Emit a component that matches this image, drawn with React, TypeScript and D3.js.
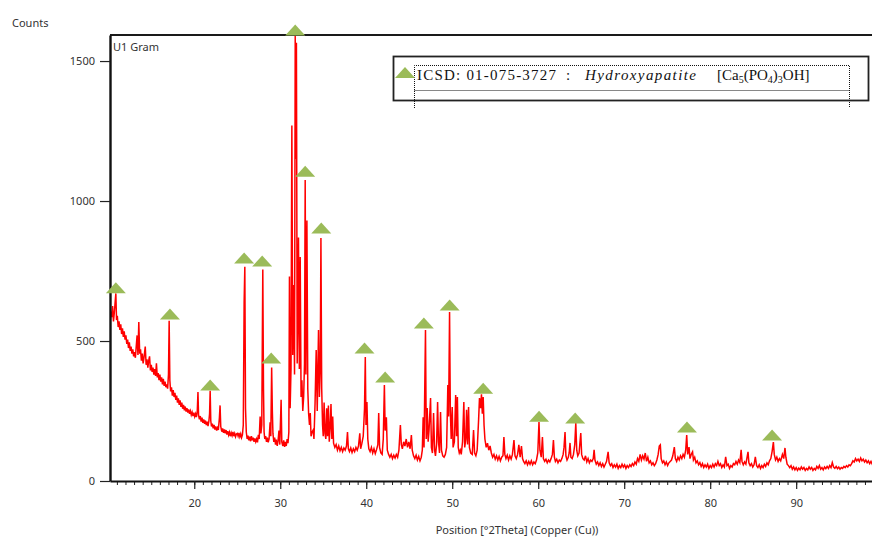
import React, { useRef, useEffect } from 'react';
import * as d3 from 'd3';

// scan, [°2Theta, counts]
const scanLow: [number, number][] = [
  [10.2, 560], [10.3, 605], [10.4, 585], [10.5, 625], [10.6, 570], [10.7, 600], [10.8, 640], [10.88, 670], [10.96, 575],
  [11.05, 590], [11.15, 550], [11.25, 570], [11.35, 540], [11.45, 560], [11.55, 525], [11.65, 545], [11.75, 515], [11.85, 535],
  [11.95, 505], [12.05, 520], [12.15, 490], [12.25, 505], [12.35, 475], [12.45, 495], [12.55, 465], [12.65, 480], [12.75, 455],
  [12.85, 470], [12.95, 445], [13.05, 460], [13.15, 440], [13.25, 480], [13.35, 520], [13.45, 450], [13.55, 568], [13.65, 455],
  [13.75, 470], [13.85, 430], [13.95, 455], [14.05, 420], [14.15, 440], [14.3, 480], [14.4, 415], [14.5, 435], [14.6, 405],
  [14.7, 430], [14.8, 445], [14.9, 395], [15.0, 415], [15.1, 390], [15.2, 405], [15.3, 380], [15.4, 400], [15.5, 375],
  [15.6, 420], [15.7, 370], [15.8, 385], [15.9, 360], [16.0, 380], [16.1, 355], [16.2, 370], [16.3, 345], [16.4, 365],
  [16.5, 340], [16.6, 355], [16.7, 335], [16.8, 345], [16.9, 330], [17.0, 380], [17.08, 572], [17.16, 360], [17.25, 320],
  [17.35, 335], [17.45, 305], [17.55, 325], [17.65, 300], [17.75, 315], [17.85, 290], [17.95, 305], [18.05, 280], [18.15, 295],
  [18.25, 272], [18.35, 288], [18.45, 265], [18.55, 280], [18.65, 258], [18.75, 272], [18.85, 252], [18.95, 266], [19.05, 248],
  [19.15, 260], [19.25, 244], [19.35, 256], [19.45, 240], [19.55, 250], [19.65, 236], [19.75, 246], [19.85, 232], [19.95, 244],
  [20.05, 230], [20.15, 240], [20.25, 228], [20.35, 250], [20.43, 318], [20.5, 235], [20.6, 220], [20.7, 232], [20.8, 212],
  [20.9, 226], [21.0, 208], [21.1, 220], [21.2, 204], [21.3, 216], [21.4, 200], [21.5, 212], [21.6, 196], [21.7, 214],
  [21.78, 240], [21.85, 322], [21.92, 215], [22.0, 195], [22.1, 205], [22.2, 188], [22.3, 200], [22.4, 184], [22.5, 195],
  [22.6, 180], [22.7, 190], [22.8, 182], [22.92, 225], [23.0, 270], [23.08, 195], [23.2, 176], [23.3, 188], [23.4, 172],
  [23.5, 184], [23.6, 170], [23.7, 182], [23.8, 166], [23.9, 178], [24.0, 164], [24.1, 174], [24.2, 160], [24.3, 172],
  [24.4, 162], [24.5, 175], [24.6, 160], [24.7, 170], [24.8, 158], [24.9, 168],
];

const scanMain: [number, number][] = [
  [25.0, 170], [25.1, 160], [25.2, 172], [25.3, 158], [25.4, 168], [25.5, 155], [25.6, 165], [25.7, 200], [25.8, 640],
  [25.88, 765], [25.96, 260], [26.05, 175], [26.15, 150], [26.25, 162], [26.35, 145], [26.45, 158], [26.55, 142], [26.65, 160],
  [26.75, 145], [26.85, 155], [26.95, 140], [27.05, 152], [27.15, 140], [27.25, 150], [27.35, 138], [27.45, 165], [27.55, 150],
  [27.66, 230], [27.75, 170], [27.85, 200], [27.97, 755], [28.05, 330], [28.12, 175], [28.2, 150], [28.3, 160], [28.4, 140],
  [28.5, 155], [28.6, 138], [28.7, 150], [28.82, 210], [28.9, 160], [29.0, 405], [29.08, 250], [29.15, 170], [29.25, 140],
  [29.35, 155], [29.45, 130], [29.55, 148], [29.65, 125], [29.75, 145], [29.85, 180], [29.95, 130], [30.1, 290], [30.18, 140],
  [30.3, 125], [30.4, 145], [30.5, 122], [30.6, 140], [30.7, 125], [30.8, 150], [30.9, 135], [31.0, 175], [31.07, 730],
  [31.15, 260], [31.25, 400], [31.35, 1270], [31.45, 450], [31.58, 700], [31.66, 380], [31.74, 1590], [31.81, 1150],
  [31.88, 1565], [31.97, 420], [32.05, 600], [32.12, 870], [32.22, 400], [32.32, 800], [32.42, 300], [32.52, 360], [32.62, 250],
  [32.72, 300], [32.82, 420], [32.9, 1075], [32.98, 380], [33.1, 930], [33.2, 330], [33.3, 240], [33.4, 200], [33.49, 243],
  [33.58, 160], [33.7, 175], [33.83, 182], [33.92, 150], [34.05, 280], [34.18, 468], [34.3, 250], [34.45, 539], [34.55, 300],
  [34.65, 400], [34.73, 868], [34.82, 330], [34.92, 200], [35.0, 160], [35.1, 280], [35.2, 170], [35.3, 150], [35.4, 260],
  [35.5, 160], [35.6, 270], [35.7, 140], [35.8, 190], [35.9, 275], [36.0, 150], [36.1, 230], [36.2, 135], [36.35, 120],
  [36.5, 130], [36.65, 110], [36.8, 125], [36.95, 108], [37.1, 120], [37.25, 105], [37.4, 118], [37.55, 110], [37.7, 125],
  [37.82, 175], [37.92, 115], [38.05, 105], [38.2, 118], [38.35, 102], [38.5, 115], [38.65, 105], [38.8, 120], [38.95, 110],
  [39.1, 125], [39.25, 170], [39.35, 115], [39.5, 135], [39.65, 160], [39.8, 260], [39.89, 443], [39.97, 200], [40.08, 282],
  [40.18, 150],
];

const scanMid: [number, number][] = [
  [40.3, 115], [40.45, 105], [40.6, 120], [40.75, 100], [40.9, 115], [41.05, 98], [41.2, 112], [41.35, 130], [41.45, 243],
  [41.55, 120], [41.7, 100], [41.85, 95], [41.98, 150], [42.11, 343], [42.2, 180], [42.34, 228], [42.45, 110], [42.6, 95],
  [42.75, 85], [42.9, 95], [43.05, 80], [43.2, 92], [43.35, 82], [43.5, 95], [43.65, 85], [43.8, 110], [43.97, 200],
  [44.08, 130], [44.2, 115], [44.35, 140], [44.5, 125], [44.65, 150], [44.8, 120], [44.95, 140], [45.1, 115], [45.25, 164],
  [45.35, 110], [45.5, 90], [45.65, 80], [45.8, 92], [45.95, 75], [46.1, 88], [46.25, 72], [46.4, 85], [46.52, 110],
  [46.62, 228], [46.72, 120], [46.89, 539], [46.98, 150], [47.09, 261], [47.2, 140], [47.3, 180], [47.48, 296], [47.58, 120],
  [47.7, 100], [47.83, 243], [47.95, 110], [48.05, 90], [48.18, 130], [48.3, 282], [48.4, 140], [48.52, 100], [48.64, 246],
  [48.75, 110], [48.9, 90], [49.05, 85], [49.2, 95], [49.35, 120], [49.49, 343], [49.58, 230], [49.69, 604], [49.78, 250],
  [49.88, 150], [50.0, 264], [50.1, 120], [50.25, 140], [50.4, 307], [50.5, 160], [50.6, 300], [50.7, 120], [50.82, 100],
  [50.94, 110], [51.05, 95], [51.2, 140], [51.35, 282], [51.45, 120], [51.58, 150], [51.67, 254], [51.78, 130], [51.9, 264],
  [52.0, 120], [52.15, 100], [52.33, 95], [52.48, 182], [52.6, 100], [52.75, 90], [52.9, 110], [53.07, 220], [53.17, 296],
  [53.3, 260], [53.4, 310], [53.5, 240], [53.6, 300], [53.7, 200], [53.8, 150], [53.95, 120], [54.1, 135], [54.25, 110],
  [54.4, 125], [54.55, 100], [54.7, 85], [54.85, 95], [55.0, 78], [55.15, 90], [55.3, 75], [55.45, 88], [55.6, 72],
  [55.75, 85], [55.9, 90], [56.01, 157], [56.12, 95], [56.25, 80], [56.4, 92], [56.55, 75], [56.7, 90], [56.85, 78],
  [57.0, 95], [57.18, 146], [57.3, 90], [57.45, 80], [57.6, 95], [57.75, 129], [57.9, 85], [58.05, 125], [58.18, 80],
  [58.3, 70], [58.45, 62], [58.6, 72], [58.75, 58], [58.9, 70], [59.05, 60], [59.2, 72], [59.35, 58], [59.5, 68],
  [59.65, 62], [59.8, 75], [59.95, 100], [60.09, 211], [60.2, 110], [60.35, 85], [60.49, 157],
];

const scanHigh: [number, number][] = [
  [60.6, 80], [60.75, 70], [60.9, 78], [61.05, 65], [61.2, 75], [61.35, 68], [61.5, 80], [61.65, 95], [61.77, 146],
  [61.88, 85], [62.0, 70], [62.15, 78], [62.3, 65], [62.45, 75], [62.6, 70], [62.75, 80], [62.9, 95], [63.0, 120],
  [63.12, 175], [63.22, 90], [63.35, 75], [63.5, 85], [63.6, 100], [63.7, 136], [63.8, 85], [63.95, 80], [64.1, 95],
  [64.25, 130], [64.37, 207], [64.48, 110], [64.6, 90], [64.75, 100], [64.95, 171], [65.05, 95], [65.2, 80], [65.35, 75],
  [65.5, 90], [65.65, 68], [65.8, 80], [65.95, 65], [66.1, 75], [66.25, 70], [66.4, 80], [66.5, 111], [66.6, 75],
  [66.75, 60], [66.9, 68], [67.05, 55], [67.2, 65], [67.35, 52], [67.5, 62], [67.65, 50], [67.8, 60], [67.95, 70],
  [68.13, 104], [68.25, 65], [68.4, 55], [68.55, 62], [68.7, 48], [68.85, 58], [69.0, 50], [69.15, 60], [69.3, 45],
  [69.45, 55], [69.6, 48], [69.75, 60], [69.9, 50], [70.05, 58], [70.2, 45], [70.35, 55], [70.5, 48], [70.65, 58],
  [70.8, 52], [70.95, 62], [71.1, 55], [71.25, 68], [71.4, 60], [71.55, 80], [71.7, 70], [71.85, 95], [72.0, 75],
  [72.15, 90], [72.3, 78], [72.45, 100], [72.6, 70], [72.75, 85], [72.9, 65], [73.05, 72], [73.2, 58], [73.35, 65],
  [73.5, 55], [73.65, 62], [73.8, 75], [73.95, 95], [74.08, 125], [74.2, 129], [74.3, 80], [74.45, 65], [74.6, 72],
  [74.75, 58], [74.9, 68], [75.05, 55], [75.2, 65], [75.35, 70], [75.5, 75], [75.65, 90], [75.83, 121], [75.95, 80],
  [76.1, 70], [76.25, 85], [76.4, 75], [76.55, 90], [76.7, 80], [76.85, 95], [77.0, 85], [77.15, 110], [77.27, 164],
  [77.38, 95], [77.54, 121], [77.65, 80], [77.8, 95], [77.95, 104], [78.05, 75], [78.2, 85], [78.35, 65], [78.5, 72],
  [78.65, 58], [78.8, 66], [78.95, 52], [79.1, 62], [79.25, 48], [79.4, 58], [79.55, 50], [79.7, 60], [79.85, 45],
  [80.0, 55], [80.15, 48], [80.3, 60], [80.45, 50], [80.6, 62], [80.75, 55], [80.9, 70], [81.05, 55], [81.2, 62],
  [81.35, 48], [81.5, 58], [81.65, 50], [81.8, 86], [81.95, 55], [82.1, 60], [82.25, 45], [82.4, 55], [82.55, 50],
  [82.7, 62], [82.85, 58], [83.0, 70], [83.15, 60], [83.3, 75], [83.45, 65], [83.6, 111], [83.7, 70], [83.85, 58],
  [84.0, 68], [84.15, 60], [84.4, 104], [84.5, 65], [84.65, 55], [84.8, 62], [84.95, 50], [85.1, 58], [85.25, 86],
  [85.4, 55], [85.55, 48], [85.7, 58], [85.85, 45], [86.0, 55], [86.15, 48], [86.3, 60], [86.45, 52], [86.6, 65],
  [86.75, 58], [86.9, 72], [87.05, 80], [87.2, 105], [87.35, 139], [87.45, 95], [87.6, 75], [87.75, 85], [87.9, 70],
  [88.05, 80], [88.2, 72], [88.4, 95], [88.55, 80], [88.7, 118], [88.8, 85], [88.95, 60], [89.1, 55], [89.25, 48],
  [89.4, 55], [89.55, 42], [89.7, 50], [89.85, 40], [90.0, 48], [90.15, 38], [90.3, 46], [90.45, 40], [90.6, 50],
  [90.75, 42], [90.9, 48], [91.05, 38], [91.2, 45], [91.35, 40], [91.5, 50], [91.65, 42], [91.8, 48], [91.95, 38],
  [92.1, 45], [92.25, 40], [92.4, 52], [92.55, 45], [92.7, 55], [92.85, 42], [93.0, 48], [93.15, 40], [93.3, 50],
  [93.45, 44], [93.6, 52], [93.75, 45], [93.9, 55], [94.05, 48], [94.2, 66], [94.35, 50], [94.5, 45], [94.65, 52],
  [94.8, 44], [94.95, 50], [95.1, 42], [95.25, 48], [95.4, 45], [95.55, 52], [95.7, 48], [95.85, 55], [96.0, 50],
  [96.15, 58], [96.3, 55], [96.45, 62], [96.6, 72], [96.75, 68], [96.9, 80], [97.05, 72], [97.2, 78], [97.35, 70],
  [97.5, 82], [97.65, 72], [97.8, 78], [97.95, 68], [98.1, 75], [98.25, 65], [98.4, 72], [98.55, 62], [98.7, 70],
  [98.85, 60], [99.0, 65], [99.4, 68],
];

// reference pattern (ICSD 01-075-3727) markers
const refTheta = [10.88, 17.17, 21.85, 25.8, 27.9, 28.95, 31.74, 32.9, 34.77, 39.8, 42.2, 46.7, 49.7, 53.6, 60.1, 64.3, 77.3, 87.2];
const refCounts = [671, 577, 323, 777, 766, 420, 1591, 1087, 884, 455, 352, 545, 609, 312, 212, 205, 173, 145];

const xTicks = [20, 30, 40, 50, 60, 70, 80, 90];
const yTicks = [0, 500, 1000, 1500];

const App = () => {
  const chart = useRef<SVGSVGElement>(null);

  useEffect(() => {
    const width = 872;
    const height = 546;
    const left = 110;
    const top = 35;
    const bottom = 481;
    const right = 877;

    const svg = d3.select(chart.current);
    svg.selectAll('*').remove();
    svg.attr('width', width).attr('height', height);

    const x = d3.scaleLinear().domain([10.2, 99.4]).range([left, right]);
    const y = d3.scaleLinear().domain([0, 1593]).range([bottom, top]);

    const axisFont = "'Noto Sans', 'DejaVu Sans', sans-serif";

    svg.append('clipPath').attr('id', 'plot-clip')
      .append('rect')
      .attr('x', left).attr('y', top - 6)
      .attr('width', right - left).attr('height', bottom - top + 6);

    // scan
    const scan = [...scanLow, ...scanMain, ...scanMid, ...scanHigh];
    const line = d3.line<[number, number]>()
      .x(d => x(d[0]))
      .y(d => y(d[1]));

    svg.append('path')
      .datum(scan)
      .attr('clip-path', 'url(#plot-clip)')
      .attr('d', line)
      .attr('fill', 'none')
      .attr('stroke', '#ff0000')
      .attr('stroke-width', 1.5);

    // frame top
    svg.append('line')
      .attr('x1', left).attr('x2', right)
      .attr('y1', top).attr('y2', top)
      .attr('stroke', '#1a1a1a').attr('stroke-width', 2);

    // x axis, minor ticks every degree
    svg.append('g')
      .attr('transform', `translate(0,${bottom})`)
      .call(d3.axisBottom(x).tickValues(d3.range(11, 100)).tickSize(4).tickSizeOuter(0).tickFormat(() => ''))
      .call(g => g.select('.domain').remove())
      .selectAll('line').attr('stroke', '#222');

    const xAxis = svg.append('g')
      .attr('transform', `translate(0,${bottom})`)
      .call(d3.axisBottom(x).tickValues(xTicks).tickSize(8).tickPadding(10).tickSizeOuter(0));
    xAxis.select('.domain').attr('stroke', '#111').attr('stroke-width', 2.2);
    xAxis.selectAll('.tick line').attr('stroke', '#222').attr('stroke-width', 1.2);
    xAxis.selectAll('text')
      .style('font-family', axisFont).style('font-size', '11px').style('fill', '#333');

    const yAxis = svg.append('g')
      .attr('transform', `translate(${left},0)`)
      .call(d3.axisLeft(y).tickValues(yTicks).tickFormat(d3.format('d')).tickSize(10).tickPadding(5).tickSizeOuter(0));
    yAxis.select('.domain').attr('stroke', '#111').attr('stroke-width', 2.4);
    yAxis.selectAll('.tick line').attr('stroke', '#222').attr('stroke-width', 1.2);
    yAxis.selectAll('text')
      .style('font-family', axisFont).style('font-size', '11px').style('fill', '#333');

    // reference markers
    svg.append('g')
      .selectAll('path')
      .data(refTheta)
      .enter()
      .append('path')
      .attr('d', (d, i) => {
        const cx = x(d);
        const b = y(refCounts[i]);
        return `M${cx - 10},${b} L${cx},${b - 11} L${cx + 10},${b} Z`;
      })
      .attr('fill', '#9bbb59');

    // labels
    svg.append('text')
      .attr('x', 12).attr('y', 27)
      .style('font-family', axisFont).style('font-size', '11px').style('fill', '#333')
      .text('Counts');

    svg.append('text')
      .attr('x', 113).attr('y', 51)
      .style('font-family', axisFont).style('font-size', '11px').style('fill', '#333')
      .text('U1 Gram');

    svg.append('text')
      .attr('x', 517).attr('y', 534)
      .attr('text-anchor', 'middle')
      .style('font-family', axisFont).style('font-size', '11px').style('fill', '#333')
      .text('Position [°2Theta] (Copper (Cu))');

    // legend
    const legend = svg.append('g');
    legend.append('rect')
      .attr('x', 393.5).attr('y', 56.5)
      .attr('width', 475).attr('height', 44)
      .attr('fill', '#fff')
      .attr('stroke', '#222').attr('stroke-width', 1.8);
    legend.append('path')
      .attr('d', 'M414.5,108 V65.5 H849.5 V108 M414.5,90.5 H849.5')
      .attr('fill', 'none')
      .attr('stroke', '#111').attr('stroke-width', 1)
      .attr('stroke-dasharray', '1,1');
    legend.append('path')
      .attr('d', 'M395,78 L405,67 L415,78 Z')
      .attr('fill', '#9bbb59');

    const serif = "'Liberation Serif', 'Times New Roman', serif";
    const lt = legend.append('text')
      .attr('y', 80)
      .style('font-family', serif).style('font-size', '15px').style('fill', '#111');
    lt.append('tspan').attr('x', 417).attr('textLength', 139).text('ICSD: 01-075-3727');
    lt.append('tspan').attr('x', 566).text(':');
    lt.append('tspan').attr('x', 585).attr('textLength', 111).style('font-style', 'italic').text('Hydroxyapatite');
    lt.append('tspan').attr('x', 717).text('[Ca');
    lt.append('tspan').attr('dy', 3).style('font-size', '10px').text('5');
    lt.append('tspan').attr('dy', -3).text('(PO');
    lt.append('tspan').attr('dy', 3).style('font-size', '10px').text('4');
    lt.append('tspan').attr('dy', -3).text(')');
    lt.append('tspan').attr('dy', 3).style('font-size', '10px').text('3');
    lt.append('tspan').attr('dy', -3).text('OH]');
  }, []);

  return (
    <svg ref={chart} style={{ position: 'absolute', left: 0, top: 0, background: '#fff' }}></svg>
  );
};

export default App;
